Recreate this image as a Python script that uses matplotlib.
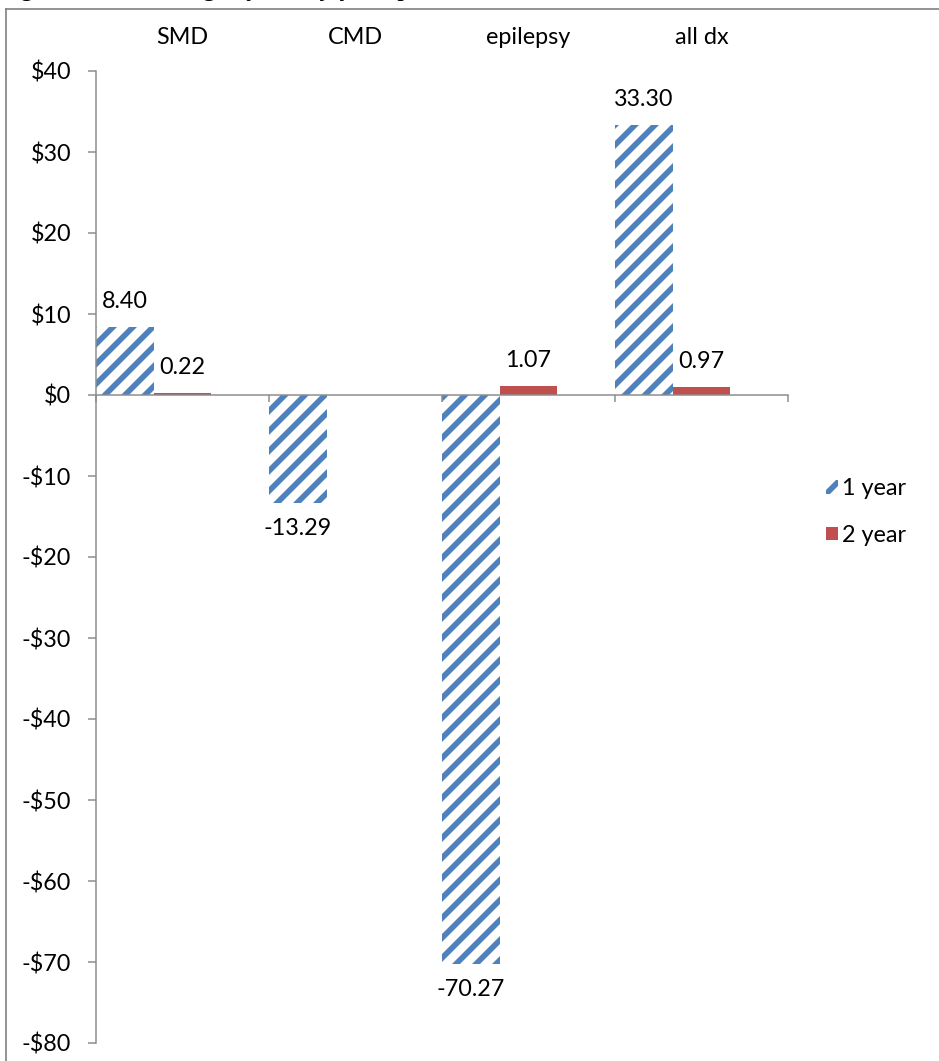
import matplotlib
matplotlib.use("Agg")
import matplotlib.pyplot as plt
from matplotlib.lines import Line2D
import numpy as np

# ---- data ----
categories = ["SMD", "CMD", "epilepsy", "all dx"]
series_names = ["1 year", "2 year"]
one_year = [8.40, -13.29, -70.27, 33.30]
two_year = [0.22, None, 1.07, 0.97]
y_ticks = list(range(-80, 41, 10))

BLUE = "#4F81BD"
RED = "#C0504D"
AXIS_GREY = "#8C8C8C"

DPI = 120
FS = 14
plt.rcParams["font.family"] = ["Lato", "DejaVu Sans"]
plt.rcParams["font.size"] = FS
plt.rcParams["hatch.linewidth"] = 3.4

fig = plt.figure(figsize=(939 / DPI, 1061 / DPI), dpi=DPI)
ax = fig.add_axes([96 / 939, 1 - 1043 / 1061, (788 - 96) / 939, (1043 - 71) / 1061])

# three slots per category (third slot empty), no gap between bars
width = 1 / 3
x = np.arange(len(categories))


def draw_series(values, offset, **style):
    xs = [xi + offset for xi, v in zip(x, values) if v is not None]
    vs = [v for v in values if v is not None]
    bars = ax.bar(xs, vs, width=width, **style)
    for xi, v in zip(xs, vs):
        ax.annotate(f"{v:.2f}", (xi, v), xytext=(0, 15.3 if v >= 0 else -15.3),
                    textcoords="offset points", ha="center", va="center",
                    fontsize=FS, color="black")
    return bars


draw_series(one_year, -width, color="white", edgecolor=BLUE, hatch="//",
            linewidth=0, label=series_names[0])
draw_series(two_year, 0.0, color=RED, edgecolor=RED, linewidth=0,
            label=series_names[1])

ax.set_xlim(-0.5, len(categories) - 0.5)
ax.set_ylim(-80, 40)

# y axis
ax.set_yticks(y_ticks)
ax.set_yticklabels([f"-${abs(v)}" if v < 0 else f"${v}" for v in y_ticks])
ax.tick_params(axis="y", length=4.8, width=0.9, color=AXIS_GREY, pad=10,
               labelsize=FS)

# x axis: line at zero, boundary ticks, category names on top
ax.spines["bottom"].set_position(("data", 0))
ax.set_xticks(x)
ax.set_xticklabels(categories)
ax.set_xticks(np.arange(-0.5, len(categories)), minor=True)
ax.tick_params(axis="x", which="major", bottom=False, top=False,
               labelbottom=False, labeltop=True, pad=10, labelsize=FS)
ax.tick_params(axis="x", which="minor", bottom=True, top=False, length=4.2,
               width=0.9, color=AXIS_GREY, direction="out")

for side in ("top", "right"):
    ax.spines[side].set_visible(False)
for side in ("left", "bottom"):
    ax.spines[side].set_color(AXIS_GREY)
    ax.spines[side].set_linewidth(0.9)

leg = ax.legend(loc="center left", bbox_to_anchor=(826 / 939, 1 - 512 / 1061),
                bbox_transform=fig.transFigure, frameon=False, borderpad=0,
                borderaxespad=0, handlelength=0.5, handleheight=0.5,
                handletextpad=0.2, labelspacing=1.1, fontsize=FS)

# outer frame of the figure
frame_grey = "#808080"
fig.add_artist(Line2D([6 / 939, 6 / 939], [0, 1 - 9 / 1061],
                      transform=fig.transFigure, color=frame_grey, lw=1.0))
fig.add_artist(Line2D([6 / 939, 1], [1 - 9 / 1061, 1 - 9 / 1061],
                      transform=fig.transFigure, color=frame_grey, lw=1.0))

# caption line above the frame (runs off the top edge)
fig.text(-0.002, 1 + 5 / 1061, "Figure 2: Net savings by dx, by year, per member",
         family=["Liberation Serif", "DejaVu Serif"], fontsize=16,
         ha="left", va="baseline", color="black")

fig.savefig("out.png", dpi=DPI)
